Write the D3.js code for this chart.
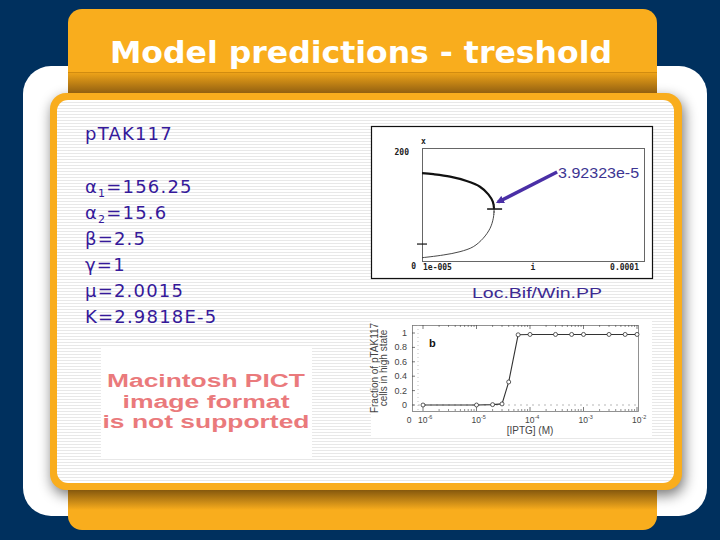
<!DOCTYPE html>
<html>
<head>
<meta charset="utf-8">
<script src="https://cdn.jsdelivr.net/npm/d3@7"></script>
<style>
  html, body { margin: 0; padding: 0; background: #00305e; }
  svg { display: block; }
</style>
</head>
<body>
<svg id="slide" width="720" height="540"></svg>
<script>
// ---------------- DATA ----------------
const slideTitle = "Model predictions - treshold";
const paramLines = [
  { sym: "α", sub: "1", val: "=156.25" },
  { sym: "α", sub: "2", val: "=15.6" },
  { sym: "β", sub: "", val: "=2.5" },
  { sym: "γ", sub: "", val: "=1" },
  { sym: "μ", sub: "", val: "=2.0015" },
  { sym: "K", sub: "", val: "=2.9818E-5" }
];
const plasmidName = "pTAK117";
const pictLines = ["Macintosh PICT", "image format", "is not supported"];

// Bifurcation diagram (XPPAUT / AUTO) : stable upper branch, unstable lower branch
const upperBranchI = [1e-5, 1.46e-5, 2.14e-5, 2.81e-5, 3.35e-5, 3.69e-5, 3.87e-5, 3.92323e-5];
const upperBranchX = [155.5, 153.6, 149.3, 141.6, 131.5, 118.0, 105.0, 92.0];
const lowerBranchI = [3.92323e-5, 3.89e-5, 3.76e-5, 3.48e-5, 3.08e-5, 2.54e-5, 1.86e-5, 1e-5];
const lowerBranchX = [92.0, 75.6, 57.9, 40.2, 25.3, 16.5, 10.6, 5.8];
const foldI = 3.92323e-5;
const foldX = 92.0;
const foldLabel = "3.92323e-5";
const bifXTickLabels = ["1e-005", "i", "0.0001"];
const bifYTickLabels = ["0", "200"];
const bifAxisName = "x";
const specialI = [1e-5];
const specialX = [30];
const softwareLabel = "Loc.Bif/Win.PP";

// Experimental curve (panel b)
const iptgM = [1e-6, 1e-5, 2e-5, 3e-5, 4e-5, 6e-5, 1e-4, 3e-4, 6e-4, 1e-3, 3e-3, 6e-3, 1e-2];
const highFraction = [0, 0, 0.005, 0.015, 0.32, 0.975, 0.98, 0.98, 0.98, 0.98, 0.98, 0.98, 0.98];
const fracTicks = [0, 0.2, 0.4, 0.6, 0.8, 1];
const fracTickLabels = ["0", "0.2", "0.4", "0.6", "0.8", "1"];
const iptgDecades = [1e-6, 1e-5, 1e-4, 1e-3, 1e-2];
const iptgExponents = ["-6", "-5", "-4", "-3", "-2"];
const panelLetter = "b";
const yTitleLines = ["Fraction of pTAK117", "cells in high state"];
const xTitle = "[IPTG] (M)";

// ---------------- DRAW ----------------
const svg = d3.select("#slide");
const defs = svg.append("defs");

const ORANGE = "#f9ad1d";
const NAVY = "#00305e";
const TXT = "#35199a";

// stripes pattern
const pat = defs.append("pattern").attr("id", "stripes").attr("patternUnits", "userSpaceOnUse")
  .attr("width", 4).attr("height", 3);
pat.append("rect").attr("width", 4).attr("height", 3).attr("fill", "#ffffff");
pat.append("rect").attr("width", 4).attr("height", 1).attr("fill", "#e8e8e8");

// shadow filter
const f = defs.append("filter").attr("id", "blur").attr("x", "-20%").attr("y", "-20%").attr("width", "140%").attr("height", "140%");
f.append("feGaussianBlur").attr("stdDeviation", 7);

// gradients
const g1 = defs.append("linearGradient").attr("id", "tabShadeTop").attr("x1", 0).attr("y1", 0).attr("x2", 0).attr("y2", 1);
g1.append("stop").attr("offset", "0%").attr("stop-color", "#f2a619");
g1.append("stop").attr("offset", "100%").attr("stop-color", "#8e5d10");
const g2 = defs.append("linearGradient").attr("id", "tabShadeBottom").attr("x1", 0).attr("y1", 0).attr("x2", 0).attr("y2", 1);
g2.append("stop").attr("offset", "0%").attr("stop-color", "#7a500c");
g2.append("stop").attr("offset", "100%").attr("stop-color", ORANGE);

defs.append("clipPath").attr("id", "whiteClip")
  .append("rect").attr("x", 23).attr("y", 66).attr("width", 684).attr("height", 450).attr("rx", 28);

// background
svg.append("rect").attr("width", 720).attr("height", 540).attr("fill", NAVY);
// white pillow panel
svg.append("rect").attr("x", 23).attr("y", 66).attr("width", 684).attr("height", 450).attr("rx", 28).attr("fill", "#ffffff");
// shadow of inner panel
svg.append("g").attr("clip-path", "url(#whiteClip)")
  .append("rect").attr("x", 52).attr("y", 98).attr("width", 632).attr("height", 397).attr("rx", 16)
  .attr("fill", "#000").attr("opacity", 0.55).attr("filter", "url(#blur)");
// orange tab
svg.append("rect").attr("x", 68).attr("y", 9).attr("width", 589).attr("height", 521).attr("rx", 14).attr("fill", ORANGE);
svg.append("rect").attr("x", 68).attr("y", 72).attr("width", 589).attr("height", 22).attr("fill", "url(#tabShadeTop)");
svg.append("line").attr("x1", 68).attr("x2", 657).attr("y1", 72.5).attr("y2", 72.5).attr("stroke", "#d18c10").attr("stroke-width", 1);
svg.append("rect").attr("x", 68).attr("y", 488).attr("width", 589).attr("height", 22).attr("fill", "url(#tabShadeBottom)");

// inner panel
svg.append("rect").attr("x", 50).attr("y", 93).attr("width", 632).attr("height", 397).attr("rx", 16).attr("fill", ORANGE);
svg.append("rect").attr("x", 57).attr("y", 100).attr("width", 617).attr("height", 383).attr("rx", 11).attr("fill", "url(#stripes)");

// title
svg.append("text").attr("x", 361).attr("y", 63).attr("text-anchor", "middle")
  .attr("font-family", "DejaVu Sans").attr("font-weight", "bold").attr("font-size", 31)
  .attr("fill", "#ffffff").attr("textLength", 502).attr("lengthAdjust", "spacingAndGlyphs")
  .text(slideTitle);

// parameter text
const left = svg.append("g").attr("font-family", "DejaVu Sans").attr("font-size", 18).attr("fill", TXT)
  .attr("letter-spacing", 1.2);
left.append("text").attr("x", 85).attr("y", 140).text(plasmidName);
paramLines.forEach((p, i) => {
  const t = left.append("text").attr("x", 85).attr("y", 193 + i * 26);
  t.append("tspan").text(p.sym);
  if (p.sub) {
    t.append("tspan").attr("font-size", 11).attr("dy", 4).text(p.sub);
    t.append("tspan").attr("dy", -4).text(p.val);
  } else {
    t.append("tspan").text(p.val);
  }
});

// PICT placeholder
svg.append("rect").attr("x", 101).attr("y", 346).attr("width", 211).attr("height", 112).attr("fill", "#ffffff");
const pictLen = [198, 167, 207];
const pictY = [387, 408, 428];
pictLines.forEach((l, i) => {
  svg.append("text").attr("x", 206).attr("y", pictY[i]).attr("text-anchor", "middle")
    .attr("font-family", "Liberation Sans").attr("font-weight", "bold").attr("font-size", 18)
    .attr("fill", "#ea7a7c").attr("textLength", pictLen[i]).attr("lengthAdjust", "spacingAndGlyphs")
    .text(l);
});

// ---------------- Bifurcation diagram ----------------
const bif = svg.append("g");
bif.append("rect").attr("x", 371.5).attr("y", 126.5).attr("width", 281).attr("height", 152)
  .attr("fill", "#ffffff").attr("stroke", "#111").attr("stroke-width", 1.2);
const bx = d3.scaleLinear().domain([1e-5, 1e-4]).range([422, 644]);
const by = d3.scaleLinear().domain([0, 200]).range([261, 148]);
bif.append("rect").attr("x", bx.range()[0] + 0.5).attr("y", by.range()[1] + 0.5)
  .attr("width", bx.range()[1] - bx.range()[0]).attr("height", by.range()[0] - by.range()[1])
  .attr("fill", "none").attr("stroke", "#666").attr("stroke-width", 1);

const bline = d3.line().x(d => bx(d[0])).y(d => by(d[1])).curve(d3.curveCatmullRom.alpha(0.5));
bif.append("path").attr("d", bline(upperBranchI.map((v, i) => [v, upperBranchX[i]])))
  .attr("fill", "none").attr("stroke", "#111").attr("stroke-width", 2.2);
bif.append("path").attr("d", bline(lowerBranchI.map((v, i) => [v, lowerBranchX[i]])))
  .attr("fill", "none").attr("stroke", "#333").attr("stroke-width", 0.9);

// special points markers
specialI.forEach((v, i) => {
  bif.append("line").attr("x1", bx(v) - 5).attr("x2", bx(v) + 5).attr("y1", by(specialX[i])).attr("y2", by(specialX[i]))
    .attr("stroke", "#111").attr("stroke-width", 1.2);
});
bif.append("line").attr("x1", bx(foldI) - 7).attr("x2", bx(foldI) + 8).attr("y1", by(foldX)).attr("y2", by(foldX))
  .attr("stroke", "#111").attr("stroke-width", 1.5);
bif.append("line").attr("x1", bx(foldI)).attr("x2", bx(foldI)).attr("y1", by(foldX) - 5).attr("y2", by(foldX) + 6)
  .attr("stroke", "#333").attr("stroke-width", 0.8).attr("stroke-dasharray", "2,1.5");

// tick labels
const bfont = { "font-family": "DejaVu Sans Mono", "font-size": 8, "font-weight": "bold", "fill": "#222" };
function applyFont(sel, o) { Object.entries(o).forEach(([k, v]) => sel.attr(k, v)); return sel; }
applyFont(bif.append("text").attr("x", 421).attr("y", 144).text(bifAxisName), bfont);
applyFont(bif.append("text").attr("x", 409).attr("y", by(200) + 7).attr("text-anchor", "end").text(bifYTickLabels[1]), bfont);
applyFont(bif.append("text").attr("x", 416).attr("y", by(0) + 8).attr("text-anchor", "end").text(bifYTickLabels[0]), bfont);
applyFont(bif.append("text").attr("x", bx(1e-5) + 1).attr("y", by(0) + 9).text(bifXTickLabels[0]), bfont);
applyFont(bif.append("text").attr("x", bx(5.5e-5)).attr("y", by(0) + 9).attr("text-anchor", "middle").text(bifXTickLabels[1]), bfont);
applyFont(bif.append("text").attr("x", bx(1e-4) - 5).attr("y", by(0) + 9).attr("text-anchor", "end").text(bifXTickLabels[2]), bfont);

// arrow to the fold
const ARROW = "#4a2fa6";
defs.append("marker").attr("id", "ahead").attr("viewBox", "0 0 10 10").attr("refX", 7).attr("refY", 5)
  .attr("markerWidth", 2.3).attr("markerHeight", 2.3).attr("orient", "auto")
  .append("path").attr("d", "M0,0 L10,5 L0,10 z").attr("fill", ARROW);
bif.append("line").attr("x1", bx(foldI) + 63).attr("y1", by(foldX) - 37)
  .attr("x2", bx(foldI) + 4).attr("y2", by(foldX) - 7)
  .attr("stroke", ARROW).attr("stroke-width", 3.5).attr("marker-end", "url(#ahead)");
bif.append("text").attr("x", bx(foldI) + 64).attr("y", by(foldX) - 31)
  .attr("font-family", "Liberation Sans").attr("font-size", 15).attr("fill", "#3d3592")
  .attr("textLength", 81).attr("lengthAdjust", "spacingAndGlyphs")
  .text(foldLabel);

svg.append("text").attr("x", 472).attr("y", 298)
  .attr("font-family", "Liberation Sans").attr("font-size", 15).attr("fill", "#3d2a92")
  .attr("textLength", 130).attr("lengthAdjust", "spacingAndGlyphs")
  .text(softwareLabel);

// ---------------- Panel b ----------------
const pb = svg.append("g");
pb.append("rect").attr("x", 371).attr("y", 320).attr("width", 281).attr("height", 118).attr("fill", "#ffffff");
const px = d3.scaleLog().domain([1e-6, 1e-2]).range([423, 637]);
const py = d3.scaleLinear().domain([0, 1]).range([405, 333]);
const boxL = 412, boxR = 638, boxT = 325, boxB = 411;
const GR = "#444";
pb.append("rect").attr("x", boxL + 0.5).attr("y", boxT + 0.5).attr("width", boxR - boxL).attr("height", boxB - boxT)
  .attr("fill", "none").attr("stroke", "#777").attr("stroke-width", 0.8);
// axis-break dotted vertical line
pb.append("line").attr("x1", 418).attr("x2", 418).attr("y1", boxT).attr("y2", boxB)
  .attr("stroke", "#aaa").attr("stroke-width", 0.7).attr("stroke-dasharray", "1,3");
// dashed zero line
pb.append("line").attr("x1", boxL).attr("x2", boxR).attr("y1", py(0)).attr("y2", py(0))
  .attr("stroke", "#999").attr("stroke-width", 0.7).attr("stroke-dasharray", "2,4");

// y ticks
fracTicks.forEach((v, i) => {
  pb.append("line").attr("x1", boxL).attr("x2", boxL + 3).attr("y1", py(v)).attr("y2", py(v)).attr("stroke", GR).attr("stroke-width", 0.7);
  pb.append("text").attr("x", 407).attr("y", py(v) + 3).attr("text-anchor", "end")
    .attr("font-family", "Liberation Sans").attr("font-size", 9).attr("fill", GR).text(fracTickLabels[i]);
});
// x ticks (major + minor)
iptgDecades.forEach((d, i) => {
  pb.append("line").attr("x1", px(d)).attr("x2", px(d)).attr("y1", boxB).attr("y2", boxB - 4).attr("stroke", GR).attr("stroke-width", 0.7);
  pb.append("line").attr("x1", px(d)).attr("x2", px(d)).attr("y1", boxT).attr("y2", boxT + 4).attr("stroke", GR).attr("stroke-width", 0.7);
  const t = pb.append("text").attr("x", px(d) - 5).attr("y", 423)
    .attr("font-family", "Liberation Sans").attr("font-size", 8.5).attr("fill", GR);
  t.append("tspan").text("10");
  t.append("tspan").attr("font-size", 5.5).attr("dy", -4).text(iptgExponents[i]);
  if (i < iptgDecades.length - 1) {
    for (let m = 2; m <= 9; m++) {
      const v = d * m;
      pb.append("line").attr("x1", px(v)).attr("x2", px(v)).attr("y1", boxB).attr("y2", boxB - 2).attr("stroke", GR).attr("stroke-width", 0.6);
      pb.append("line").attr("x1", px(v)).attr("x2", px(v)).attr("y1", boxT).attr("y2", boxT + 2).attr("stroke", GR).attr("stroke-width", 0.6);
    }
  }
});
pb.append("text").attr("x", 409).attr("y", 423).attr("text-anchor", "middle")
  .attr("font-family", "Liberation Sans").attr("font-size", 8.5).attr("fill", GR).text("0");
pb.append("text").attr("x", px(1e-4)).attr("y", 434).attr("text-anchor", "middle")
  .attr("font-family", "Liberation Sans").attr("font-size", 10).attr("fill", GR).text(xTitle);
yTitleLines.forEach((l, i) => {
  pb.append("text").attr("transform", `translate(${378 + i * 9},${(boxT + boxB) / 2}) rotate(-90)`)
    .attr("text-anchor", "middle").attr("font-family", "Liberation Sans").attr("font-size", 10).attr("fill", GR).text(l);
});
pb.append("text").attr("x", 429).attr("y", 347).attr("font-family", "Liberation Sans").attr("font-weight", "bold")
  .attr("font-size", 11).attr("fill", "#111").text(panelLetter);

const pts = iptgM.map((v, i) => [v, highFraction[i]]);
pb.append("path").attr("d", d3.line().x(d => px(d[0])).y(d => py(d[1]))(pts))
  .attr("fill", "none").attr("stroke", "#333").attr("stroke-width", 1.1);
pb.selectAll("circle.pt").data(pts).join("circle").attr("class", "pt")
  .attr("cx", d => px(d[0])).attr("cy", d => py(d[1])).attr("r", 2)
  .attr("fill", "#fff").attr("stroke", "#333").attr("stroke-width", 0.8);
</script>
</body>
</html>
